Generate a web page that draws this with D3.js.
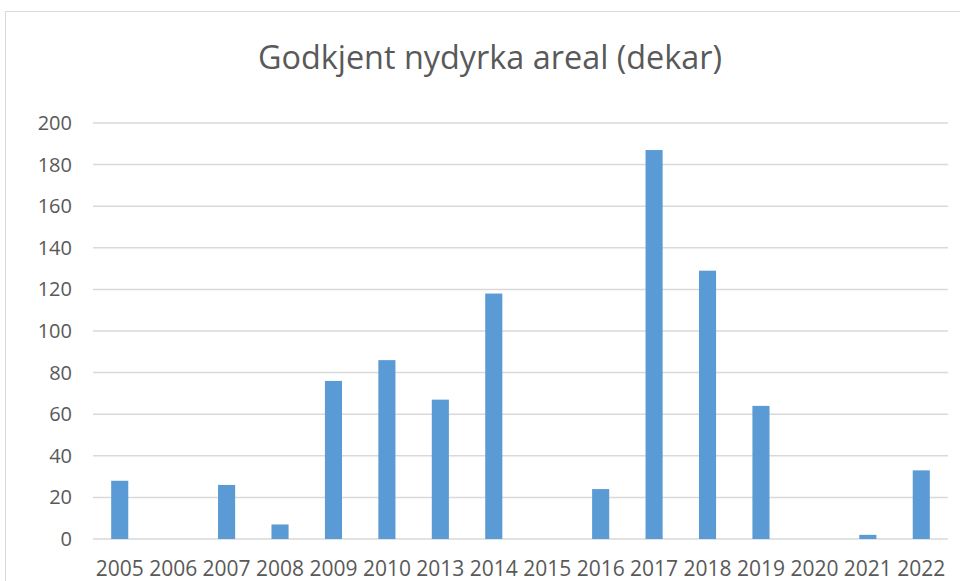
<!DOCTYPE html>
<html>
<head>
<meta charset="utf-8">
<script src="https://cdn.jsdelivr.net/npm/d3@7"></script>
<style>
  body { margin: 0; background: #fff; }
  svg { display: block; }
</style>
</head>
<body>
<div id="chart"></div>
<script>
// data
const years = ['2005', '2006', '2007', '2008', '2009', '2010', '2013', '2014',
               '2015', '2016', '2017', '2018', '2019', '2020', '2021', '2022'];
const areal = [28, 0, 26, 7, 76, 86, 67, 118, 0, 24, 187, 129, 64, 0, 2, 33];
const yTicks = [0, 20, 40, 60, 80, 100, 120, 140, 160, 180, 200];
const title = 'Godkjent nydyrka areal (dekar)';

const width = 960, height = 581;
const margin = { top: 123, right: 12, bottom: 42, left: 93 };
const innerW = width - margin.left - margin.right;
const innerH = height - margin.top - margin.bottom;

const svg = d3.select('#chart').append('svg')
    .attr('width', width)
    .attr('height', height);

// chart area border
svg.append('rect')
    .attr('x', 5.5).attr('y', 11.5)
    .attr('width', width).attr('height', height)
    .attr('fill', 'none')
    .attr('stroke', '#d9d9d9')
    .attr('stroke-width', 1);

svg.append('text')
    .attr('x', 490)
    .attr('y', 69)
    .attr('text-anchor', 'middle')
    .attr('fill', '#595959')
    .attr('font-family', 'Open Sans, sans-serif')
    .attr('font-size', '32.4px')
    .text(title);

const g = svg.append('g')
    .attr('transform', `translate(${margin.left},${margin.top})`);

const x = d3.scaleBand()
    .domain(years)
    .range([0, innerW])
    .paddingInner(0.68)
    .paddingOuter(0.34);

const y = d3.scaleLinear()
    .domain([0, 200])
    .range([innerH, 0]);

// gridlines
g.append('g')
    .selectAll('line')
    .data(yTicks)
    .enter()
    .append('line')
    .attr('x1', 0)
    .attr('x2', innerW)
    .attr('y1', d => y(d))
    .attr('y2', d => y(d))
    .attr('stroke', '#d9d9d9')
    .attr('stroke-width', 1.5);

// y axis labels
const yAxis = g.append('g')
    .call(d3.axisLeft(y).tickValues(yTicks).tickSize(0).tickPadding(21));
yAxis.select('.domain').remove();
yAxis.selectAll('text')
    .attr('fill', '#595959')
    .attr('font-family', 'Open Sans, sans-serif')
    .attr('font-size', '20px');

// bars
g.selectAll('.bar')
    .data(years.map((yr, i) => ({ year: yr, value: areal[i] })))
    .enter()
    .append('rect')
    .attr('class', 'bar')
    .attr('x', d => x(d.year))
    .attr('y', d => y(d.value))
    .attr('width', x.bandwidth())
    .attr('height', d => innerH - y(d.value))
    .attr('fill', '#5b9bd5');

// x axis labels
const xAxis = g.append('g')
    .attr('transform', `translate(0,${innerH})`)
    .call(d3.axisBottom(x).tickSize(0).tickPadding(22));
xAxis.select('.domain').remove();
xAxis.selectAll('text')
    .attr('fill', '#595959')
    .attr('font-family', 'Open Sans, sans-serif')
    .attr('font-size', '21px');
</script>
</body>
</html>
